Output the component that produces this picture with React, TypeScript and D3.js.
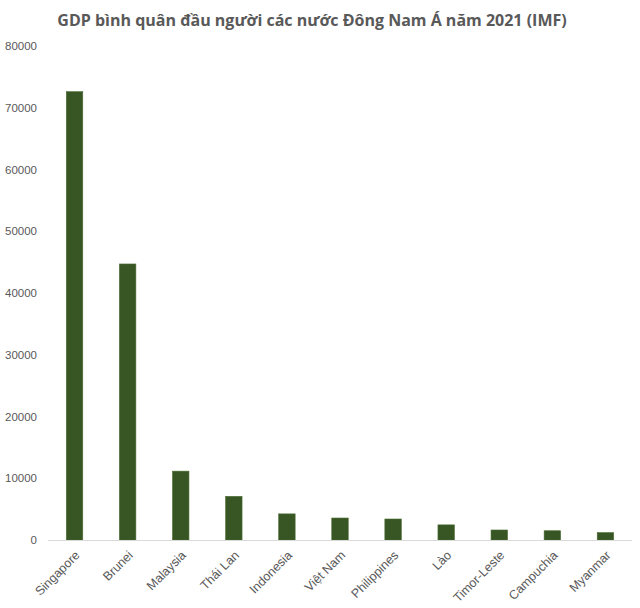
import React from "react";
import * as d3 from "d3";

const categories = ["Singapore", "Brunei", "Malaysia", "Thái Lan", "Indonesia", "Việt Nam", "Philippines", "Lào", "Timor-Leste", "Campuchia", "Myanmar"];
const values = [72600, 44700, 11150, 7070, 4230, 3560, 3400, 2450, 1620, 1500, 1200];
const yTicks = [0, 10000, 20000, 30000, 40000, 50000, 60000, 70000, 80000];
const title = "GDP bình quân đầu người các nước Đông Nam Á năm 2021 (IMF)";

export default function App() {
  const W = 640, H = 608;
  const left = 48, right = 632, top = 46, bottom = 540;
  const x = d3.scaleBand<string>().domain(categories).range([left, right]).paddingInner(0).paddingOuter(0);
  const y = d3.scaleLinear().domain([0, 80000]).range([bottom, top]);
  const bw = x.bandwidth() * 0.31;
  const textColor = "#595959";
  return (
    <svg width={W} height={H} style={{ position: "absolute", left: 0, top: 0, background: "#fff" }}>
      <text x={312} y={26} textAnchor="middle" fontFamily="'Open Sans', sans-serif" fontWeight="bold" fontSize={16} fill={textColor}>{title}</text>
      {yTicks.map((t) => (
        <text key={t} x={37} y={y(t) + 4} textAnchor="end" fontFamily="'Liberation Sans', Arial, sans-serif" fontSize={11.5} fill={textColor}>{t}</text>
      ))}
      {categories.map((c, i) => {
        const cx = (x(c) as number) + x.bandwidth() / 2;
        return (
          <rect key={c} x={cx - bw / 2} y={y(values[i])} width={bw} height={bottom - y(values[i])} fill="#375623" stroke="#4a6b33" strokeWidth={0.6} />
        );
      })}
      <line x1={left} x2={right} y1={bottom + 0.5} y2={bottom + 0.5} stroke="#d9d9d9" strokeWidth={1} />
      {categories.map((c) => {
        const cx = (x(c) as number) + x.bandwidth() / 2;
        return (
          <text key={c} transform={`translate(${cx + 6},${bottom + 16}) rotate(-45)`} textAnchor="end" fontFamily="'Liberation Sans', Arial, sans-serif" fontSize={12.5} fill={textColor}>{c}</text>
        );
      })}
    </svg>
  );
}
